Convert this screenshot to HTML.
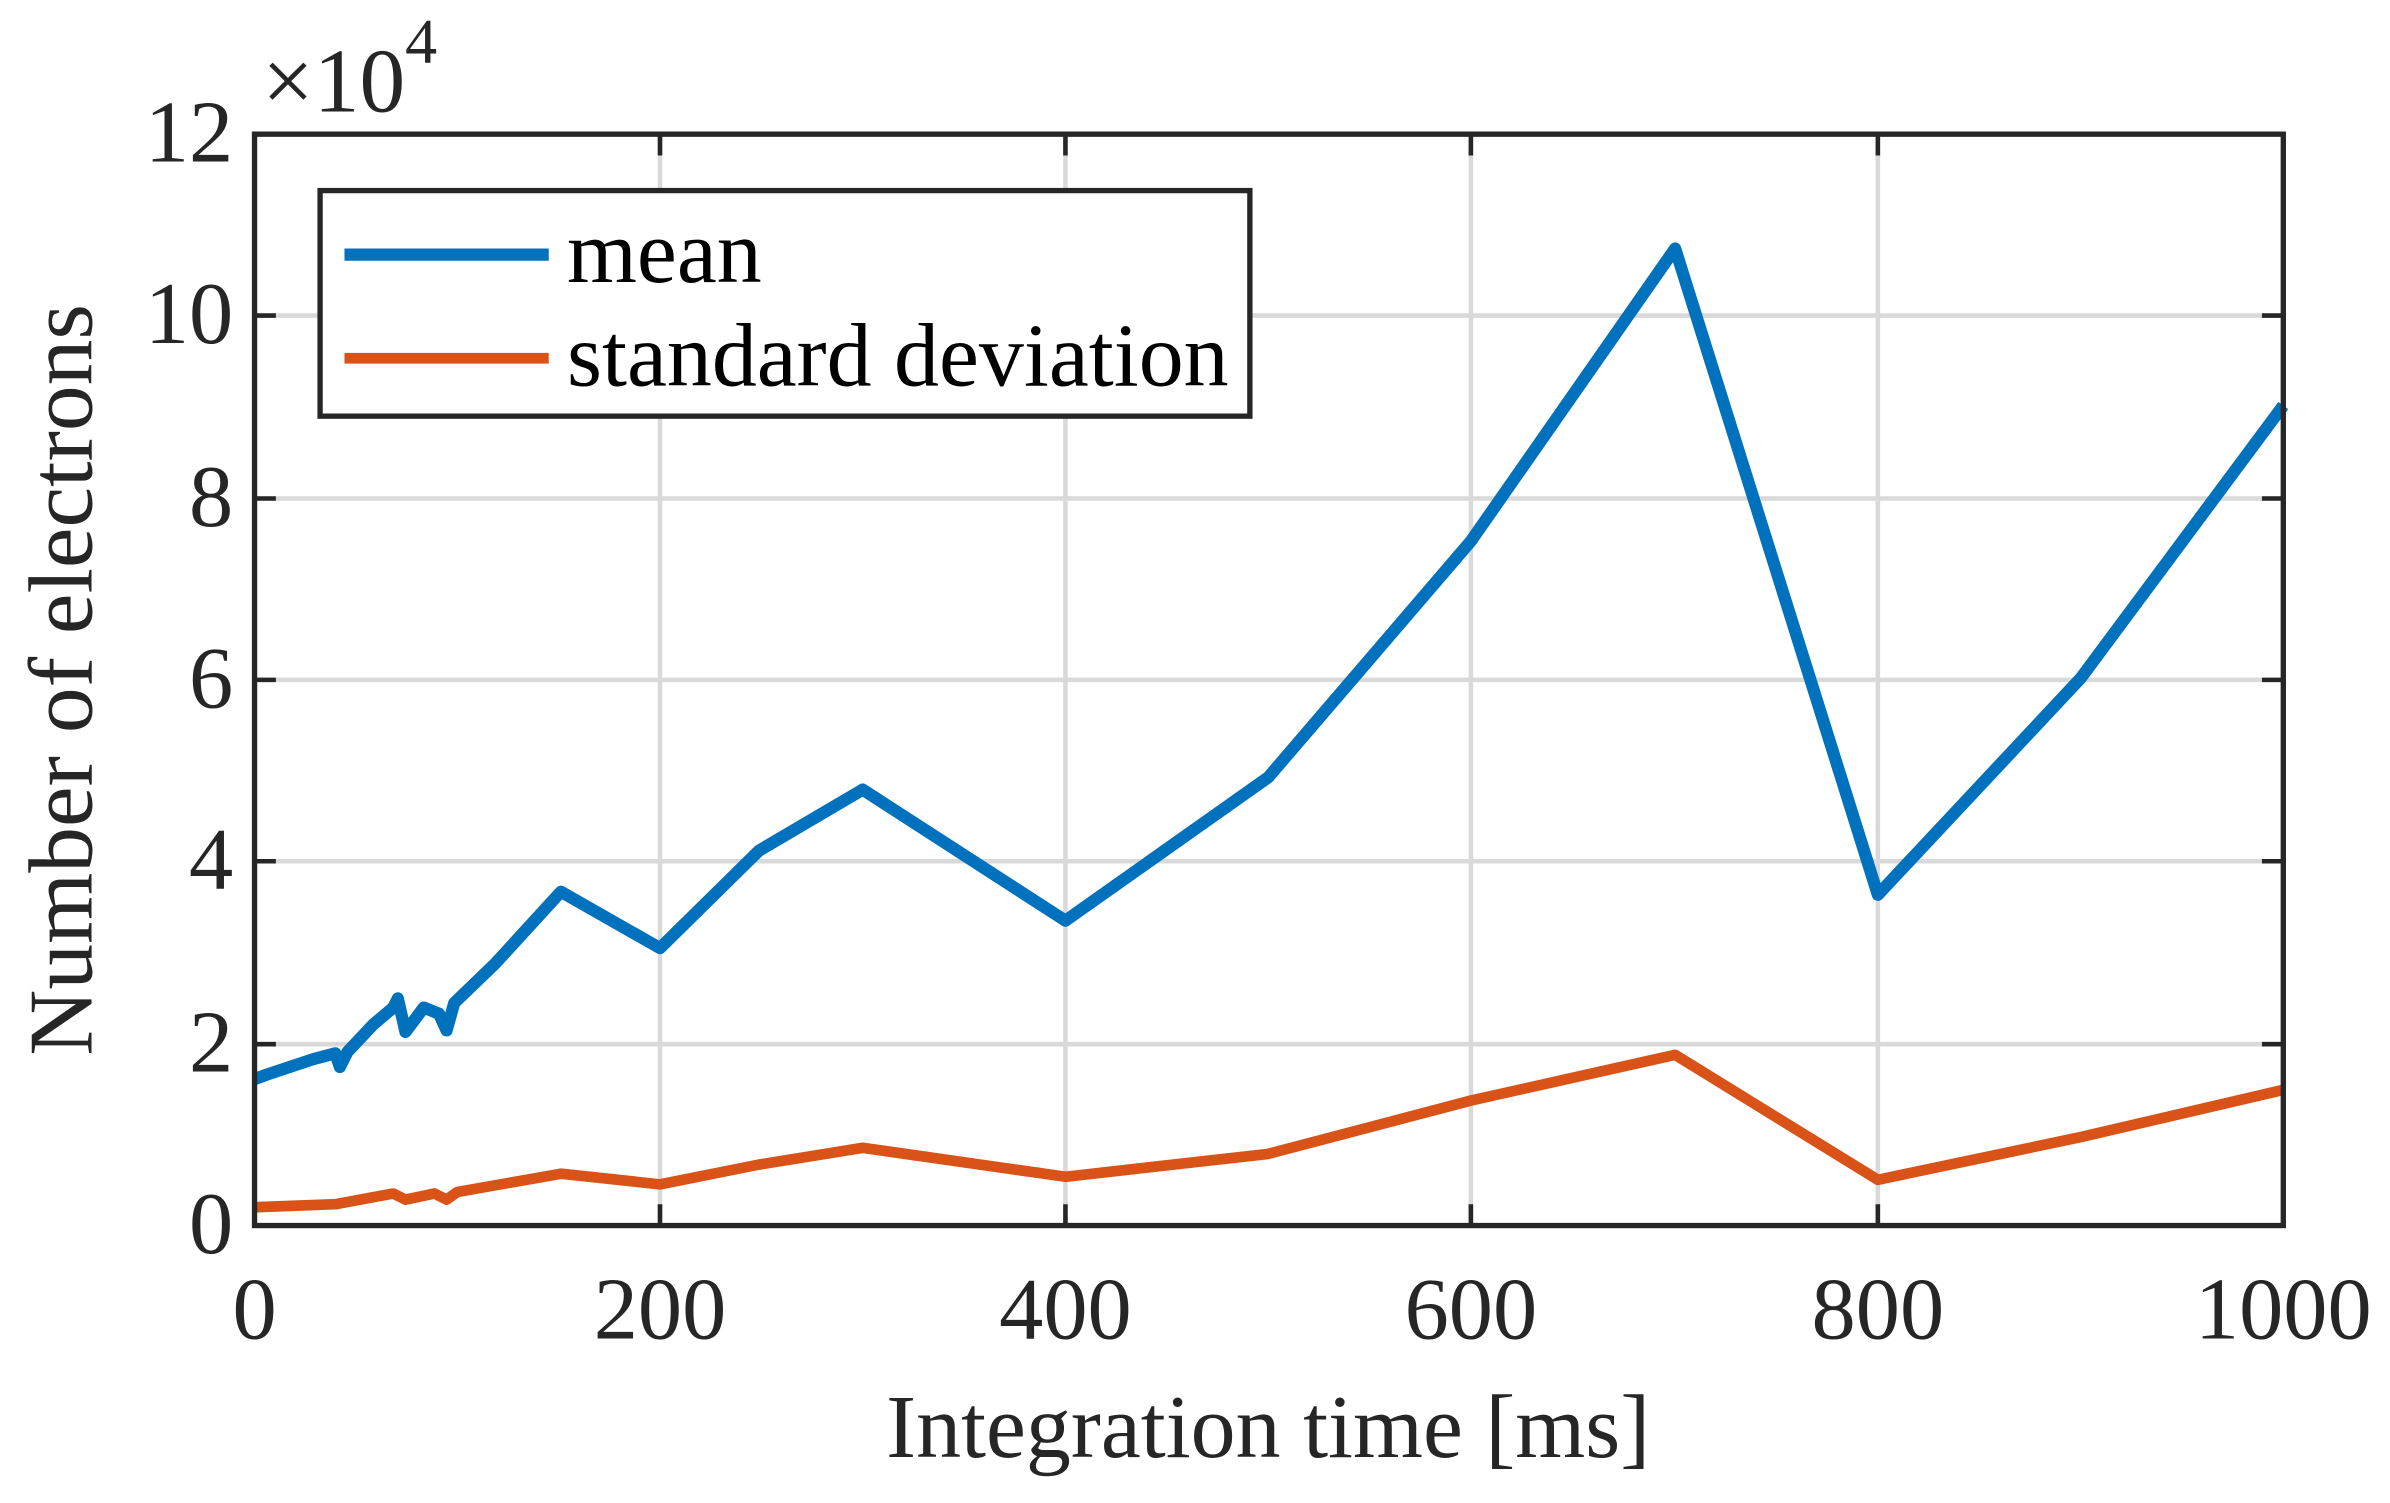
<!DOCTYPE html>
<html><head><style>html,body{margin:0;padding:0;background:#fff}svg{display:block}</style></head><body>
<svg width="2390" height="1503" viewBox="0 0 1568 986" xmlns="http://www.w3.org/2000/svg" font-family="Liberation Serif, serif" fill="#262626">
<g stroke="#d9d9d9" stroke-width="3">
<line x1="433" y1="88" x2="433" y2="804"/><line x1="699" y1="88" x2="699" y2="804"/><line x1="965" y1="88" x2="965" y2="804"/><line x1="1232" y1="88" x2="1232" y2="804"/>
<line x1="167" y1="207" x2="1498" y2="207"/><line x1="167" y1="327" x2="1498" y2="327"/><line x1="167" y1="446" x2="1498" y2="446"/><line x1="167" y1="565" x2="1498" y2="565"/><line x1="167" y1="685" x2="1498" y2="685"/>
</g>
<g stroke="#262626" stroke-width="3">
<path d="M433 88v14M699 88v14M965 88v14M1232 88v14M433 804v-14M699 804v-14M965 804v-14M1232 804v-14"/>
<path d="M167 207h14M167 327h14M167 446h14M167 565h14M167 685h14M1498 207h-14M1498 327h-14M1498 446h-14M1498 565h-14M1498 685h-14"/>
</g>
<polyline fill="none" stroke="#0072bd" stroke-width="8" stroke-linejoin="round" points="167,708 175,705 190,700 205,695 220,691 223,700 228,690 245,672 258,661 261,655 266,677 278,661 288,665 293,676 298,658 325,632 368,585 433,622 498,558 566,518 699,604 832,510 965,355 1099,163 1232,587 1365,445 1498,266"/>
<polyline fill="none" stroke="#d95319" stroke-width="7" stroke-linejoin="round" points="167,792 220,790 258,783 266,787 285,783 293,787 300,782 368,770 433,777 498,764 566,753 699,772 832,757 965,722 1099,692 1232,774 1365,746 1498,715"/>
<rect x="167" y="88" width="1331" height="716" fill="none" stroke="#262626" stroke-width="3.5"/>
<rect x="210" y="125" width="610" height="148" fill="#fff" stroke="#262626" stroke-width="3.5"/>
<line x1="226" y1="167" x2="360" y2="167" stroke="#0072bd" stroke-width="8"/>
<line x1="226" y1="235" x2="360" y2="235" stroke="#d95319" stroke-width="7"/>
<g font-size="59" fill="#000"><text x="372" y="185">mean</text><text x="372" y="253">standard deviation</text></g>
<g font-size="58" text-anchor="end">
<text x="153" y="822">0</text><text x="153" y="703">2</text><text x="153" y="583">4</text><text x="153" y="464">6</text><text x="153" y="345">8</text><text x="153" y="225">10</text><text x="153" y="106">12</text>
</g>
<g font-size="58" text-anchor="middle">
<text x="167" y="878">0</text><text x="433" y="878">200</text><text x="699" y="878">400</text><text x="965" y="878">600</text><text x="1232" y="878">800</text><text x="1498" y="878">1000</text>
</g>
<text x="832" y="956" font-size="59" text-anchor="middle">Integration time [ms]</text>
<text transform="translate(60,446) rotate(-90)" font-size="60" text-anchor="middle">Number of electrons</text>
<text x="172" y="73" font-size="60">×10<tspan font-size="42" dy="-32">4</tspan></text>
</svg>
</body></html>
